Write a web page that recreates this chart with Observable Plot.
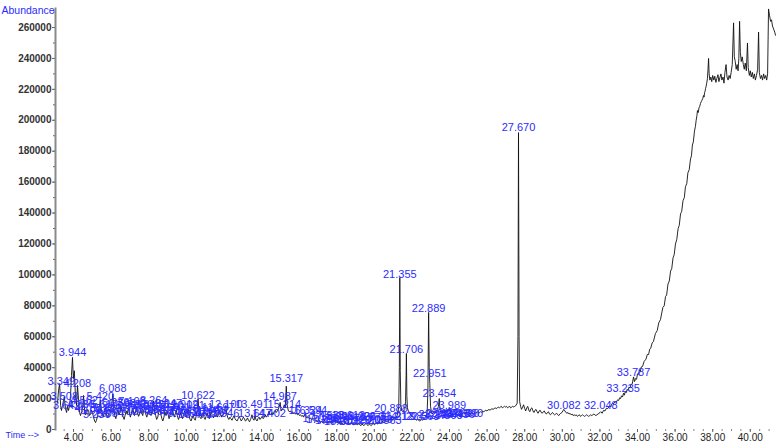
<!DOCTYPE html>
<html><head><meta charset="utf-8">
<script src="https://cdn.jsdelivr.net/npm/d3@7"></script>
<script src="https://cdn.jsdelivr.net/npm/@observablehq/plot@0.6"></script>
<style>
html,body{margin:0;padding:0;background:#fff;}
#chart{width:778px;height:442px;overflow:hidden;}
</style></head><body><div id="chart"></div>
<script>
// Total ion chromatogram: [retention time (min), abundance (thousands)]
const traceEarly = [
[3.15,17.5],[3.20,25],[3.26,29.7],[3.31,15.5],[3.36,12.3],[3.41,15.5],[3.47,19],[3.51,21.3],[3.57,13.6],[3.63,11],[3.68,14.9],[3.73,12.3],[3.79,15.5],[3.84,22],[3.89,35],[3.944,46.6],[3.99,33],[4.04,38],[4.10,22],[4.16,15.5],[4.21,28.5],[4.27,18.8],[4.32,11],[4.37,9],[4.43,11.5],[4.48,13.6],[4.53,22],[4.59,12.3],[4.64,9.5],[4.69,10.3],[4.75,13],[4.80,12.3],[4.85,9],[4.90,9.7],[4.96,12.5],[5.01,11],
[5.06,8],[5.12,5.5],[5.17,4.5],[5.22,6],[5.28,9],[5.33,12],[5.38,15],[5.42,19],[5.47,13],[5.53,10],[5.58,8],[5.64,11],[5.69,14],[5.75,10],[5.80,7.5],[5.86,9],[5.91,13],[5.97,11],[6.02,15],[6.088,23],[6.14,14],[6.19,9],[6.25,7],[6.30,10],[6.36,13],[6.41,9.5],[6.47,11],[6.52,15],[6.58,12],[6.63,8.5],[6.69,6.5],[6.74,9],[6.80,12],[6.85,10],[6.91,13.5],[6.96,11],[7.02,8],[7.07,10],[7.13,14],[7.18,12],[7.24,9],[7.29,11.5],[7.35,15],[7.40,11],[7.46,8.5],[7.51,10],[7.57,13],[7.62,11],[7.68,9],[7.73,12.5],[7.79,14],[7.84,10],[7.90,8],[7.95,11],[8.01,13],[8.06,10.5],[8.12,9],[8.17,12],[8.22,14.5],[8.264,18.5],[8.31,12],[8.37,9],[8.42,6.5],[8.48,8],[8.53,11],[8.59,13],[8.64,10],[8.70,7],[8.75,5.5],[8.81,8],[8.86,11.5],[8.92,9],[8.97,12],[9.03,10],[9.08,7],[9.14,9.5],[9.19,12],[9.25,14],[9.30,10.5],[9.36,8],[9.41,10],[9.47,12.5],[9.52,9],[9.58,6.5],[9.63,8],[9.69,11],[9.74,9],[9.80,7],[9.85,9.5],[9.91,12],[9.96,10]
];
const traceMid = [
[10.02,8],[10.09,13.5],[10.14,9],[10.20,6.5],[10.25,5.5],[10.31,7.5],[10.36,9],[10.42,7],[10.47,6],[10.53,9],[10.58,13],[10.622,20],[10.67,12],[10.72,8],[10.78,7],[10.83,9.5],[10.89,11],[10.94,8],[11.00,6.5],[11.05,8.5],[11.11,10.5],[11.16,8],[11.22,7],[11.27,9],[11.33,11.5],[11.38,9],[11.44,7.5],[11.49,9.5],[11.55,12],[11.60,10],[11.66,8],[11.71,10],[11.77,12.5],[11.82,10],[11.88,8],[11.93,9],[11.99,11],[12.04,13],[12.10,15.5],[12.15,10],[12.21,7.5],[12.26,6.5],[12.32,8],[12.37,7],[12.43,6],[12.48,7.5],[12.54,9],[12.59,7],[12.65,6],[12.70,5.5],[12.76,7],[12.81,8.5],[12.87,7],[12.92,5.5],[12.98,6.5],[13.03,8],[13.09,7],[13.14,5.5],[13.20,6],[13.25,7.5],[13.31,6],[13.36,5],[13.42,6.5],[13.49,9.5],[13.54,7],[13.60,6],[13.65,9],[13.70,6.5],[13.76,5.5],[13.81,7],[13.87,8],[13.92,6.5],[13.98,7.5],
[14.03,8.5],[14.09,7],[14.14,8],[14.20,9.5],[14.25,8],[14.31,9],[14.36,10.5],[14.40,12],[14.45,9.5],[14.51,10],[14.56,11],[14.62,10],[14.67,11.5],[14.73,12.5],[14.78,11],[14.84,12],[14.89,13],[14.95,15],[14.99,17.5],[15.04,12],[15.10,13],[15.16,14],[15.21,16],[15.26,14],[15.317,28],[15.36,16],[15.42,12.5],[15.47,11.5],[15.53,12],[15.58,11],[15.64,11.5],[15.69,10.5],[15.75,11],[15.80,10],[15.86,10.5],[15.91,9.5],[15.97,10],[16.02,9],[16.08,9.5],[16.13,8.5],[16.19,9],[16.24,8],[16.32,10.5],[16.37,8],[16.43,7.5],[16.48,8],[16.54,7],[16.59,7.5],[16.65,6.5],[16.70,7],[16.76,6],[16.81,6.5],[16.87,5.5],[16.92,6],[16.98,5],[17.03,6.5],[17.09,5],[17.14,4.5],[17.20,5.5],[17.25,4.5],[17.31,5],[17.36,6],[17.42,5],[17.47,4],[17.53,5],[17.58,4.5],[17.64,5.5],[17.69,4.5],[17.75,4],[17.80,5],[17.86,6],[17.91,5],[17.97,6.5],[18.02,5],[18.08,4],[18.13,5],[18.19,3.5],[18.24,4.5],[18.30,4],[18.35,3],[18.41,4],[18.46,5],[18.52,4],[18.57,3.5],[18.63,4.5],[18.68,3.5],[18.74,4],[18.79,5],[18.85,4],[18.90,3],[18.96,3.5],[19.01,4.5],[19.07,3.5],[19.12,3],[19.18,4],[19.23,3],[19.29,2.5],[19.34,3.5],[19.40,3],[19.45,2.5],[19.51,3.5],[19.56,4],[19.62,3],[19.67,2.5],[19.73,3.5],[19.78,3],[19.84,2.5],[19.89,3.5],[19.95,4],[20.00,3],[20.06,3.5],[20.11,4.5],[20.17,3.5],[20.22,4],[20.28,5],[20.33,4],[20.39,4.5],[20.44,5.5],[20.50,4.5],[20.55,5],[20.61,6],[20.66,5],[20.72,5.5],[20.77,6.5],[20.83,6],[20.888,8.5],[20.94,6],[20.99,6.5],[21.05,7.5],[21.10,7],[21.16,8],[21.21,9]
];
const traceMain = [
[21.26,11],[21.30,15],[21.33,40],[21.355,98.3],[21.38,38],[21.41,16],[21.46,12],[21.51,11.5],[21.57,12],[21.62,13],[21.66,18],[21.69,35],[21.706,49.2],[21.73,22],[21.76,14],[21.81,12],[21.87,11],[21.92,10],[21.98,9],[22.03,8],[22.09,7.5],[22.14,7],[22.20,6.5],[22.25,6],[22.31,6.5],[22.36,6],[22.42,5.5],[22.47,6],[22.53,6.5],[22.58,6],[22.64,7],[22.69,7.5],[22.75,8.5],[22.81,11],[22.85,25],[22.889,75.7],[22.92,40],[22.951,30],[22.99,15],[23.04,11],[23.09,10],[23.14,11.5],[23.20,12],[23.25,11],[23.31,12.5],[23.36,13],[23.41,15],[23.454,20],[23.49,13],[23.54,11],[23.60,12],[23.65,10.5],[23.71,11.5],[23.76,12],[23.82,11],[23.87,12],[23.93,12.5],[23.989,14],[24.04,11],[24.09,10],[24.15,10.5],[24.20,9.5],[24.26,10],[24.31,11],[24.37,9.5],[24.42,9],[24.48,10],[24.53,11],[24.59,10],[24.64,9.5],[24.70,10.5],[24.75,11],[24.81,10],[24.89,11.5],[24.94,10],[25.00,9.5],[25.05,10.5],[25.11,10],[25.16,11],[25.22,10.5],[25.27,10],[25.33,11],[25.38,10.5],[25.44,11],[25.49,11.5],[25.55,10.5],[25.60,11],[25.66,11.5],[25.71,11],[25.77,12],[25.82,11.5],[25.88,12],[25.93,12.5],[25.99,12],[26.04,12.5],[26.10,13],[26.15,12.5],[26.21,13],[26.26,13.5],[26.32,13],[26.37,13.5],[26.43,14],[26.48,13.5],[26.54,14],[26.59,14.5],[26.65,14],[26.70,14.5],[26.76,15],[26.81,14],[26.87,14.5],[26.92,15],[26.98,14.5],[27.03,15],[27.09,14],[27.14,14.5],[27.20,15],[27.25,14],[27.31,14.5],[27.36,15],[27.42,14.5],[27.47,15],[27.53,15.5],[27.60,17],[27.64,60],[27.67,192],[27.70,60],[27.73,18],[27.78,15],[27.83,13],[27.89,14.5],[27.94,16],[28.00,13.5],[28.05,12],[28.11,14],[28.16,15],[28.22,12.5],[28.27,11.5],[28.33,13.5],[28.38,14],[28.44,12],[28.49,11],[28.55,12.5],[28.60,13],[28.66,11.5],[28.71,10.5],[28.77,12],[28.82,12.5],[28.88,11],[28.93,10.5],[28.99,11.5],[29.04,12],[29.10,10.5],[29.15,10],[29.21,11],[29.26,11.5],[29.32,10],[29.37,9.5],[29.43,10.5],[29.48,11],[29.54,10],[29.59,9.5],[29.65,10],[29.70,10.5],[29.76,9.5],[29.81,9],[29.87,10],[29.92,10.5],[29.98,11],[30.03,12],[30.08,13],[30.14,12],[30.19,11],[30.25,10.5],[30.30,11],[30.36,10],[30.41,10.5],[30.47,9.5],[30.52,10],[30.58,9],[30.63,9.5],[30.69,9],[30.74,9.5],[30.80,8.5],[30.85,9],[30.91,9.5],[30.96,8.5],[31.02,9],[31.07,9.5],[31.13,9],[31.18,8.5],[31.24,9],[31.29,9.5],[31.35,9],[31.40,8.5],[31.46,9],[31.51,9.5],[31.57,9],[31.62,9.5],[31.68,10],[31.73,9.5],[31.79,9],[31.84,9.5],[31.90,10],[31.95,10.5],[32.01,11]
];
const traceRise = [
[32.05,11.5],[32.12,10.5],[32.19,12.3],[32.27,12],[32.35,13.8],[32.42,13.5],[32.50,15.2],[32.57,14.8],[32.65,16.8],[32.72,16.5],[32.80,18],[32.87,17.6],[32.94,19.2],[33.00,18.8],[33.05,20.5],[33.10,20],[33.15,21.8],[33.20,21],[33.26,23.5],[33.30,22.2],[33.35,24.5],[33.40,23.8],[33.45,26],[33.50,25.2],[33.55,27.5],[33.60,26.8],[33.65,29],[33.72,29.5],[33.79,34],[33.84,31],[33.90,33],[33.95,32.5],[34.00,36],[34.05,35.5],[34.10,38.5],[34.15,37.5],[34.20,40.5],[34.27,40.8],[34.35,44],[34.45,45.5],[34.52,48.5],[34.59,48.5],[34.65,52],[34.70,52.5],[34.78,56],[34.85,57],[34.95,62],[35.05,64],[35.13,69],[35.22,71],[35.35,79],[35.42,80],[35.49,86],[35.55,87],[35.62,94],[35.69,96],[35.76,102.5],[35.82,104],[35.89,111],[35.95,113],[36.02,120],[36.09,123],[36.16,130],[36.22,132],[36.29,139.5],[36.35,141],[36.42,148],[36.49,150],[36.55,157],[36.62,159],[36.68,166],[36.75,168],[36.82,175],[36.87,177],[36.92,184],[36.97,186],[37.03,193],[37.08,196],[37.12,200],[37.16,203],[37.19,206.3],[37.23,205],[37.27,208],[37.31,209],[37.35,210.9],[37.39,212],[37.43,213],[37.47,214],[37.51,216],[37.54,215],[37.57,218],[37.60,219],[37.62,220.5],[37.65,222],[37.68,224],[37.72,227],[37.75,233],[37.78,240],[37.81,230],[37.85,226]
];
const tracePlateau = [
[37.90,228],[37.95,225],[38.00,229],[38.06,226],[38.11,228.5],[38.17,224.5],[38.22,227],[38.28,229.5],[38.33,225],[38.38,227.5],[38.44,230],[38.49,226],[38.55,228],[38.60,224],[38.65,231],[38.71,236],[38.76,228],[38.82,226],[38.87,229],[38.93,227],[38.98,231],[39.04,236],[39.11,263],[39.15,241],[39.20,238],[39.25,233],[39.30,236],[39.35,232],[39.39,240],[39.43,264],[39.47,244],[39.52,238],[39.57,241],[39.63,236],[39.68,233],[39.73,237],[39.79,232],[39.85,250],[39.89,234],[39.95,229],[40.00,232],[40.05,228],[40.11,231],[40.16,227],[40.22,230],[40.27,226],[40.33,229],[40.39,233],[40.44,257],[40.48,231],[40.54,227],[40.60,229],[40.65,226],[40.71,230],[40.76,227],[40.82,229],[40.87,226],[40.92,230],[40.97,272],[41.02,268],[41.08,264],[41.13,265],[41.18,261],[41.24,259],[41.30,257],[41.34,255]
];

// Integrated peak labels: [retention time (min), apex abundance (thousands)]
const peakLabels = [
[3.349,27.2],[3.944,45.9],[4.208,25.9],[3.508,17.5],[3.642,11.6],[4.386,12.3],[4.562,14.9],[4.780,9.7],
[5.093,8.4],[5.236,5.8],[5.420,17.5],[5.617,12.3],[5.823,9.7],[5.954,6.5],[6.088,22.6],[6.236,13.6],
[6.417,10.3],[6.593,12.9],[6.712,7.8],[6.955,11.6],[7.108,14.2],[7.313,9.1],[7.520,12.3],[7.708,8.4],
[7.962,11.0],[8.133,9.1],[8.264,14.9],[8.431,12.3],[8.652,7.8],[8.860,10.3],[9.047,12.9],[9.285,8.4],
[9.501,10.3],[9.736,6.5],[9.912,12.3],[10.091,11.6],[10.310,7.8],[10.471,5.8],[10.622,18.1],[10.914,9.1],
[11.156,7.1],[11.402,8.4],[11.697,10.3],[11.946,6.5],[12.100,12.3],[13.491,12.3],[13.647,6.5],[14.402,6.5],
[14.987,17.5],[15.214,12.3],[15.317,29.1],[16.324,8.4],[16.594,8.4],[17.076,3.2],[17.258,2.6],[17.538,5.2],
[17.745,2.0],[18.006,4.5],[18.212,1.3],[18.347,3.2],[18.613,5.2],[18.920,2.0],[19.206,4.5],[19.512,1.9],
[19.775,3.9],[20.089,2.6],[20.314,4.5],[20.563,1.9],[20.888,9.7],[21.212,4.5],[21.355,96.4],[21.706,47.9],
[21.983,4.5],[22.563,4.5],[22.889,74.4],[22.951,32.3],[23.248,5.8],[23.454,19.4],[23.617,6.5],[23.803,5.2],
[23.989,11.6],[24.213,6.5],[24.456,5.8],[24.690,6.5],[24.890,6.5],[27.670,191.5],[30.082,11.6],[32.048,11.6],
[33.235,22.6],[33.787,33.0]
];

const yTickValues = [0,20000,40000,60000,80000,100000,120000,140000,160000,180000,200000,220000,240000,260000];
const xTickValues = [4,6,8,10,12,14,16,18,20,22,24,26,28,30,32,34,36,38,40];
const yAxisTitle = "Abundance";
const xAxisTitle = "Time -->";

const trace = [...traceEarly, ...traceMid, ...traceMain, ...traceRise, ...tracePlateau]
  .map(([t, k]) => ({time: t, abundance: k * 1000}));
const peaks = peakLabels.map(([rt, k]) => ({rt, abundance: k * 1000, label: rt.toFixed(3)}));

const blue = "#2b2bff";
const chart = Plot.plot({
  width: 778, height: 442,
  marginLeft: 55, marginRight: 0, marginTop: 8, marginBottom: 13,
  x: {domain: [3.04, 41.5], label: null},
  y: {domain: [0, 272300], label: null},
  style: {fontFamily: "'Liberation Sans', Arial, sans-serif", background: "#fff", overflow: "visible"},
  marks: [
    Plot.axisY(d3.range(0, 272000, 10000), {tickSize: 2, tickFormat: () => "", stroke: "#666"}),
    Plot.axisY(yTickValues, {tickSize: 3, tickPadding: 1, tickFormat: d => String(d), fontWeight: "bold", fontSize: 10, fill: "#333", stroke: "#666"}),
    Plot.axisX(d3.range(3.5, 41.5, 0.5), {tickSize: 2, tickFormat: () => "", stroke: "#888"}),
    Plot.axisX(xTickValues, {tickSize: 3, tickPadding: 1, tickFormat: d => d.toFixed(2), fontSize: 10, fill: "#222", stroke: "#666"}),
    Plot.frame({anchor: "left", stroke: "#8a8a8a", strokeWidth: 2}),
    Plot.line(trace, {x: "time", y: "abundance", stroke: "#111", strokeWidth: 0.9}),
    Plot.text(peaks, {x: "rt", y: "abundance", text: "label", dy: -6, fill: blue, fontSize: 11}),
    Plot.text([yAxisTitle], {frameAnchor: "top-left", dx: -54, dy: -2, textAnchor: "start", fill: blue, fontSize: 10.5}),
    Plot.text([xAxisTitle], {frameAnchor: "bottom-left", dx: -50, dy: 8, textAnchor: "start", fill: blue, fontSize: 9})
  ]
});
document.getElementById("chart").appendChild(chart);
</script>
</body></html>
